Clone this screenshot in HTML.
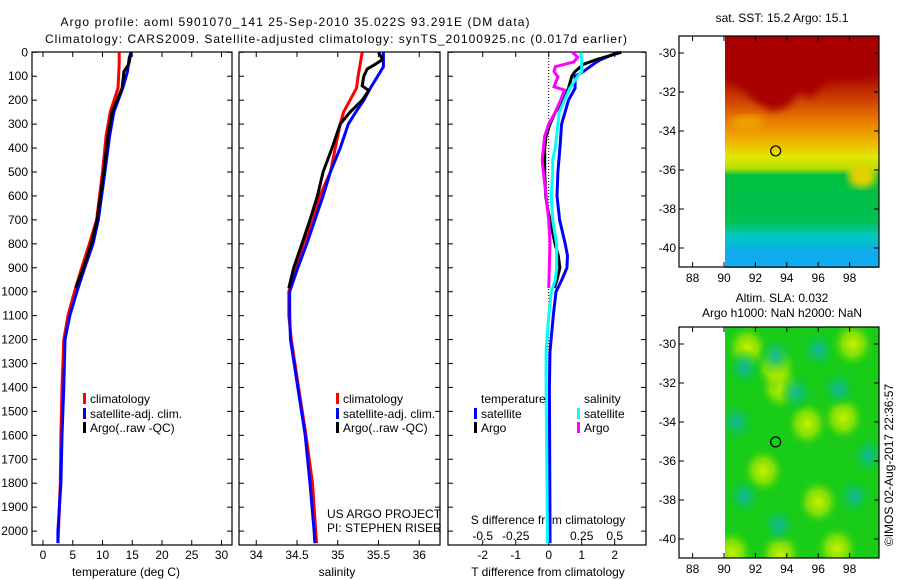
<!DOCTYPE html>
<html><head><meta charset="utf-8"><title>Argo profile</title>
<style>
html,body{margin:0;padding:0;background:#fff;}
svg{display:block;font-family:"Liberation Sans",sans-serif;}
text{font-size:12px;fill:#000;}
</style></head>
<body>
<svg id="chart" width="900" height="580" viewBox="0 0 900 580" xmlns="http://www.w3.org/2000/svg">
<defs>
<linearGradient id="sstGrad" x1="0" y1="0" x2="0" y2="1">
<stop offset="0" stop-color="#a80000"/>
<stop offset="0.16" stop-color="#a80000"/>
<stop offset="0.26" stop-color="#c83800"/>
<stop offset="0.36" stop-color="#e87800"/>
<stop offset="0.45" stop-color="#f0b000"/>
<stop offset="0.52" stop-color="#e0e800"/>
<stop offset="0.57" stop-color="#b8e000"/>
<stop offset="0.60" stop-color="#00c040"/>
<stop offset="0.80" stop-color="#00c050"/>
<stop offset="0.86" stop-color="#00c8c0"/>
<stop offset="0.94" stop-color="#10a8f0"/>
<stop offset="1" stop-color="#10b0f0"/>
</linearGradient>
<radialGradient id="yb"><stop offset="0" stop-color="#c8f000"/><stop offset="0.5" stop-color="#a8e800" stop-opacity="0.7"/><stop offset="1" stop-color="#20cc10" stop-opacity="0"/></radialGradient>
<radialGradient id="tb"><stop offset="0" stop-color="#10b8a0"/><stop offset="0.5" stop-color="#10c070" stop-opacity="0.6"/><stop offset="1" stop-color="#00c830" stop-opacity="0"/></radialGradient>
<filter id="blur"><feGaussianBlur stdDeviation="4"/></filter>
<clipPath id="clipSST"><rect x="725" y="36" width="154" height="232"/></clipPath>
<clipPath id="clipSLA"><rect x="725" y="327" width="154" height="231"/></clipPath>
</defs>
<text x="295" y="26" text-anchor="middle" font-size="13" textLength="469">Argo profile: aoml 5901070_141 25-Sep-2010 35.022S 93.291E (DM data)</text>
<text x="336" y="43" text-anchor="middle" font-size="13" textLength="582">Climatology: CARS2009. Satellite-adjusted climatology: synTS_20100925.nc (0.017d earlier)</text>
<g id="panels"></g>
<g id="maps"></g>
<text transform="translate(893,465) rotate(-90)" text-anchor="middle" font-size="12">©IMOS 02-Aug-2017 22:36:57</text>
</svg>
<script>
// ---------- data ----------
const pressTicks = [0,100,200,300,400,500,600,700,800,900,1000,1100,1200,1300,1400,1500,1600,1700,1800,1900,2000];
const tTicks = [0,5,10,15,20,25,30];
const sTicks = [34,34.5,35,35.5,36];
const dtTicks = [-2,-1,0,1,2];
const dsTicks = [-0.5,-0.25,0,0.25,0.5];
const dsTickLabels = ["-0.5","-0.25","0","0.25","0.5"];

const climTP = [0,50,150,250,350,500,700,800,900,1000,1100,1200,1400,1600,1800,2000,2050];
const climT  = [12.8,12.8,12.6,11.3,10.6,10.0,9.0,7.8,6.5,5.3,4.2,3.5,3.2,3.0,2.9,2.6,2.5];
const satTP  = [0,20,80,150,250,350,500,700,800,900,1000,1100,1200,1400,1600,1800,2000,2050];
const satT   = [14.8,14.5,14.2,13.4,11.9,11.2,10.4,9.3,8.4,7.0,5.7,4.5,3.7,3.5,3.2,3.0,2.5,2.5];
const argoTP = [0,50,80,150,250,350,500,700,800,900,985];
const argoT  = [14.8,14.4,13.6,13.3,11.6,10.9,10.2,9.1,8.1,6.8,5.5];

const climSP = [0,100,150,200,250,300,400,500,600,700,800,900,1000,1100,1200,1400,1600,1800,2000,2050];
const climS  = [35.30,35.25,35.23,35.15,35.07,35.03,34.97,34.91,34.78,34.70,34.58,34.48,34.40,34.40,34.43,34.52,34.61,34.69,34.73,34.74];
const satSP  = [0,60,100,150,200,250,300,400,500,600,700,800,900,1000,1100,1200,1400,1600,1800,2000,2050];
const satS   = [35.56,35.56,35.49,35.40,35.32,35.22,35.13,35.03,34.91,34.82,34.72,34.62,34.51,34.41,34.41,34.42,34.51,34.60,34.66,34.71,34.72];
const argoSP = [0,30,50,70,100,140,160,200,250,300,400,500,600,700,800,900,985];
const argoS  = [35.50,35.55,35.46,35.36,35.32,35.30,35.38,35.30,35.15,35.03,34.93,34.82,34.75,34.66,34.56,34.46,34.40];

const dTsatP = [0,32,50,80,100,150,200,300,400,500,600,700,800,850,900,950,1000,1100,1250,1400,2000,2050];
const dTsat  = [2.1,1.55,1.35,1.05,0.8,0.8,0.6,0.39,0.34,0.28,0.25,0.33,0.5,0.57,0.55,0.4,0.22,0.14,0.04,0.02,0.04,0.04];
const dTargoP = [0,30,50,80,100,150,200,250,300,350,400,500,600,650,700,800,850,900,950,985];
const dTargo  = [2.2,1.45,1.05,0.8,0.7,0.6,0.45,0.2,0.04,-0.08,-0.12,-0.12,-0.09,-0.04,0.04,0.19,0.29,0.34,0.25,0.17];
const dSsatP = [0,30,80,100,150,200,250,300,400,450,500,600,700,800,900,950,1000,1100,1250,1400,2000,2050];
const dSsat  = [0.24,0.25,0.25,0.22,0.16,0.12,0.08,0.07,0.05,0.03,0.03,0.02,0.03,0.06,0.06,0.05,0.02,0.0,-0.02,-0.02,-0.01,-0.01];
const dSargoP = [0,20,40,50,60,80,102,144,158,200,250,300,350,400,450,500,600,700,800,985];
const dSargo  = [0.18,0.22,0.19,0.12,0.05,0.04,0.07,0.04,0.12,0.09,0.05,0.0,-0.03,-0.04,-0.05,-0.04,-0.02,0.0,0.01,0.0];

const lonTicks = [88,90,92,94,96,98];
const latTicks = [-30,-32,-34,-36,-38,-40];
const floatLon = 93.291, floatLat = -35.022;
const slaYellow = [[91.5,-30.2],[93.6,-32.2],[93.3,-31.2],[95.3,-34.1],[97.6,-33.8],[98.2,-30],[96,-38.1],[93.6,-40.8],[97.2,-40.5],[90.5,-40.7],[92.5,-36.5]];
const slaTeal = [[91.3,-31.2],[96,-30.3],[94.6,-32.5],[90.8,-34],[91.3,-37.8],[93.5,-39.3],[98.3,-37.8],[99.2,-35.7],[97.3,-32.3],[93.3,-30.6]];

// ---------- axes ----------
const PTOP = 52, PBOT = 545;
const yP = p => 52.3 + p * 0.2394;
const xT = t => 43 + t * 5.95;
const xS = s => 297 + (s - 34.5) * 81.5;
const xDT = d => 548.7 + d * 33;
const xDS = d => 548.7 + d * 132;
const SST_TOP = 36, SLA_TOP = 327;
const xLon = lon => 724 + (lon - 90) * 15.7;
const yLat = (lat, top) => top + 17 + (-30 - lat) * 19.5;

const NS = "http://www.w3.org/2000/svg";
function mk(tag, attrs, parent) {
  const e = document.createElementNS(NS, tag);
  for (const k in attrs) e.setAttribute(k, attrs[k]);
  parent.appendChild(e);
  return e;
}
const panels = document.getElementById('panels');
const maps = document.getElementById('maps');

function frame(x0, x1, name) {
  const r = mk('rect', {x:x0, y:PTOP, width:x1-x0, height:PBOT-PTOP, fill:'none', stroke:'#000', 'stroke-width':1.2}, panels);
  
  
  pressTicks.forEach(p => {
    const y = yP(p);
    mk('line', {x1:x0, x2:x0+5, y1:y, y2:y, stroke:'#000'}, panels);
    mk('line', {x1:x1-5, x2:x1, y1:y, y2:y, stroke:'#000'}, panels);
  });
}
function xticks(vals, fx, labels, ylab, name, drawTicks) {
  vals.forEach((v, i) => {
    const x = fx(v);
    if (drawTicks) {
      mk('line', {x1:x, x2:x, y1:PTOP, y2:PTOP+5, stroke:'#000'}, panels);
      mk('line', {x1:x, x2:x, y1:PBOT-5, y2:PBOT, stroke:'#000'}, panels);
    }
    const t = mk('text', {x:x, y:ylab, 'text-anchor':'middle'}, panels);
    t.textContent = labels ? labels[i] : String(v);
    
    
  });
}
function line(P, V, fx, color, name, w) {
  const pts = P.map((p, i) => fx(V[i]).toFixed(1) + ',' + yP(p).toFixed(1)).join(' ');
  const l = mk('polyline', {points:pts, fill:'none', stroke:color, 'stroke-width':w || 3, 'stroke-linejoin':'miter'}, panels);
  
  
}
function legendEntry(x, y, color, label, name) {
  mk('rect', {x:x-7, y:y-10, width:3, height:11, fill:color}, panels);
  const t = mk('text', {x:x, y:y}, panels);
  t.textContent = label;
  
  
}
function txt(x, y, s, name, anchor, parent) {
  const t = mk('text', {x:x, y:y, 'text-anchor':anchor || 'start'}, parent || panels);
  t.textContent = s;
  
  
  return t;
}

pressTicks.forEach(p => {
  txt(28, yP(p) + 4, String(p), 'pressure-tick-label', 'end');
});

// Panel 1: temperature
frame(32, 232, 'temperature-panel');
xticks(tTicks, xT, null, 559, 'temperature-tick-label', true);
txt(126, 576, 'temperature (deg C)', 'temperature-x-axis-title', 'middle');
line(climTP, climT, xT, '#ff0000', 'temperature-climatology-line');
line(satTP, satT, xT, '#0000ff', 'temperature-satellite-line');
line(argoTP, argoT, xT, '#000000', 'temperature-argo-line');
legendEntry(90, 403, '#ff0000', 'climatology', 'legend-climatology');
legendEntry(90, 418, '#0000ff', 'satellite-adj. clim.', 'legend-satellite-adj');
legendEntry(90, 432, '#000000', 'Argo(..raw -QC)', 'legend-argo');

// Panel 2: salinity
frame(239, 440, 'salinity-panel');
xticks(sTicks, xS, null, 559, 'salinity-tick-label', true);
txt(337, 576, 'salinity', 'salinity-x-axis-title', 'middle');
line(climSP, climS, xS, '#ff0000', 'salinity-climatology-line');
line(satSP, satS, xS, '#0000ff', 'salinity-satellite-line');
line(argoSP, argoS, xS, '#000000', 'salinity-argo-line');
legendEntry(343, 403, '#ff0000', 'climatology', 'legend-climatology-salinity');
legendEntry(343, 418, '#0000ff', 'satellite-adj. clim.', 'legend-satellite-adj-salinity');
legendEntry(343, 432, '#000000', 'Argo(..raw -QC)', 'legend-argo-salinity');
txt(327, 518, 'US ARGO PROJECT', 'project-label');
txt(327, 532, 'PI: STEPHEN RISER', 'pi-label');

// Panel 3: differences
frame(448, 646, 'difference-panel');
xticks(dtTicks, xDT, null, 559, 'temp-diff-tick-label', true);
xticks(dsTicks, xDS, dsTickLabels, 540, 'sal-diff-tick-label', false);
txt(548, 524, 'S difference from climatology', 'sal-diff-axis-title', 'middle');
txt(548, 576, 'T difference from climatology', 'temp-diff-axis-title', 'middle');
const zl = mk('line', {x1:xDT(0), x2:xDT(0), y1:PTOP, y2:PBOT, stroke:'#000', 'stroke-dasharray':'1,2'}, panels);


line(dTsatP, dTsat, xDT, '#0000ff', 'temp-diff-satellite-line');
line(dTargoP, dTargo, xDT, '#000000', 'temp-diff-argo-line');
line(dSsatP, dSsat, xDS, '#00ffff', 'sal-diff-satellite-line');
line(dSargoP, dSargo, xDS, '#ff00ff', 'sal-diff-argo-line');
txt(481, 403, 'temperature', 'legend-temperature-heading');
txt(584, 403, 'salinity', 'legend-salinity-heading');
legendEntry(481, 418, '#0000ff', 'satellite', 'legend-temp-satellite');
legendEntry(481, 432, '#000000', 'Argo', 'legend-temp-argo');
legendEntry(584, 418, '#00ffff', 'satellite', 'legend-sal-satellite');
legendEntry(584, 432, '#ff00ff', 'Argo', 'legend-sal-argo');

// ---------- maps ----------
function mapFrame(top, name) {
  const bottom = top + 231;
  const r = mk('rect', {x:679, y:top, width:200, height:231, fill:'none', stroke:'#000', 'stroke-width':1.2}, maps);
  
  
  lonTicks.forEach(lon => {
    const x = xLon(lon);
    mk('line', {x1:x, x2:x, y1:top, y2:top+5, stroke:'#000'}, maps);
    mk('line', {x1:x, x2:x, y1:bottom-5, y2:bottom, stroke:'#000'}, maps);
    txt(x, bottom + 15, String(lon), 'longitude-tick-label', 'middle', maps);
  });
  latTicks.forEach(lat => {
    const y = yLat(lat, top);
    mk('line', {x1:679, x2:684, y1:y, y2:y, stroke:'#000'}, maps);
    mk('line', {x1:874, x2:879, y1:y, y2:y, stroke:'#000'}, maps);
    txt(676, y + 4, String(lat), 'latitude-tick-label', 'end', maps);
  });
}
// SST map
const sst = mk('g', {'clip-path':'url(#clipSST)'}, maps);


mk('rect', {x:725, y:36, width:154, height:232, fill:'url(#sstGrad)'}, sst);
const redPts = [[90,-29],[90,-31.3],[91,-31.8],[92,-32.5],[93,-33],[94,-32.8],[94.8,-32],[95.5,-32.3],[96.5,-31.5],[97.5,-31.3],[99.5,-31.2],[99.5,-29]]
  .map(([lo, la]) => xLon(lo) + ',' + yLat(la, SST_TOP)).join(' ');
mk('polygon', {points:redPts, fill:'#a80000', filter:'url(#blur)'}, sst);
mk('ellipse', {cx:xLon(91.5), cy:yLat(-33.6, SST_TOP), rx:16, ry:8, fill:'#f0a000', filter:'url(#blur)'}, sst);
mk('ellipse', {cx:xLon(98.8), cy:yLat(-36.3, SST_TOP), rx:14, ry:12, fill:'#e8d000', filter:'url(#blur)'}, sst);
txt(782, 22, 'sat. SST: 15.2 Argo: 15.1', 'sst-map-title', 'middle', maps);
mapFrame(SST_TOP, 'sst-map-frame');
const m1 = mk('circle', {cx:xLon(floatLon), cy:yLat(floatLat, SST_TOP), r:5, fill:'none', stroke:'#000', 'stroke-width':1.2}, maps);



// SLA map
const sla = mk('g', {'clip-path':'url(#clipSLA)'}, maps);


mk('rect', {x:725, y:327, width:154, height:231, fill:'#18cc18'}, sla);
slaYellow.forEach(([lon, lat]) => {
  mk('ellipse', {cx:xLon(lon), cy:yLat(lat, SLA_TOP), rx:22, ry:24, fill:'url(#yb)'}, sla);
});
slaTeal.forEach(([lon, lat]) => {
  mk('ellipse', {cx:xLon(lon), cy:yLat(lat, SLA_TOP), rx:17, ry:19, fill:'url(#tb)'}, sla);
});
txt(782, 302, 'Altim. SLA: 0.032', 'sla-map-title-line-1', 'middle', maps);
txt(782, 317, 'Argo h1000: NaN h2000: NaN', 'sla-map-title-line-2', 'middle', maps);
mapFrame(SLA_TOP, 'sla-map-frame');
const m2 = mk('circle', {cx:xLon(floatLon), cy:yLat(floatLat, SLA_TOP), r:5, fill:'none', stroke:'#000', 'stroke-width':1.2}, maps);


</script>
</body></html>
